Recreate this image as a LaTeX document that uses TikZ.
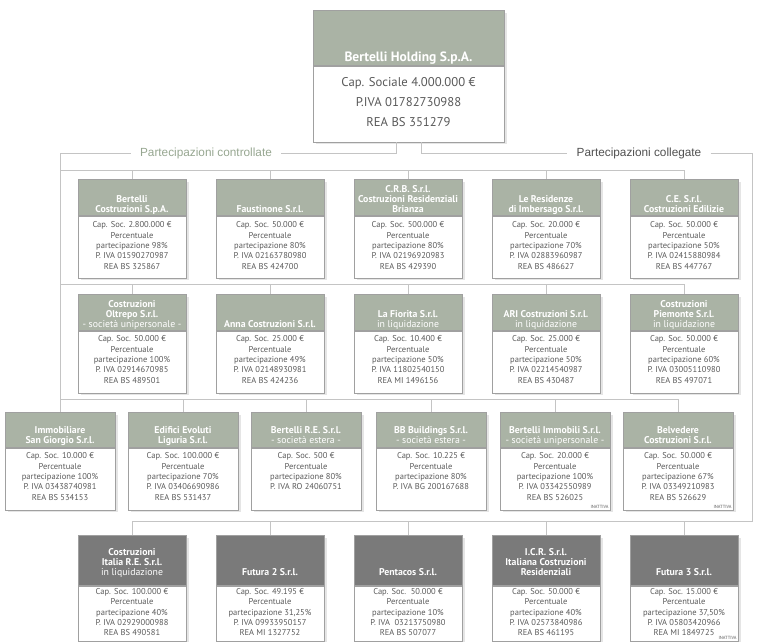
\documentclass[tikz,border=0pt]{standalone}
\usepackage{fontspec}
\setmainfont{PT Sans}
\newfontfamily\lblfont{Liberation Sans}
\usepackage{xcolor}
\usepackage{tikz}
\usetikzlibrary{positioning, shadows}

\definecolor{hdgreen}{RGB}{170,179,165}
\definecolor{hdgrey}{RGB}{122,122,122}
\definecolor{bxcol}{RGB}{160,160,160}
\definecolor{txcol}{RGB}{90,90,90}
\definecolor{lncol}{RGB}{196,196,196}
\definecolor{lbgreen}{RGB}{150,166,144}
\definecolor{lbgrey}{RGB}{80,80,80}

\tikzset{
  link/.style={draw=lncol, line width=0.8pt},
  hdr/.style n args={3}{fill=hdgreen, draw=bxcol, line width=0.5pt, text=white,
    font=\fontsize{9.8}{10}\selectfont\bfseries, inner sep=0pt, anchor=north,
    minimum width=#1pt,
    drop shadow={shadow xshift=2.5pt, shadow yshift=-2.5pt, fill=black!20},
    execute at begin node={\begin{minipage}[b][#2pt][b]{#1pt}\centering},
    execute at end node={\rule[-#3pt]{0pt}{#3pt}\end{minipage}}},
  bdy/.style n args={3}{fill=white, draw=bxcol, line width=0.5pt, text=txcol,
    font=\fontsize{8.5}{10.4}\selectfont, inner sep=0pt,
    minimum width=#1pt,
    drop shadow={shadow xshift=2.5pt, shadow yshift=-2.5pt, fill=black!20},
    execute at begin node={\begin{minipage}[t][#2pt][t]{#1pt}\centering\rule{0pt}{#3pt}},
    execute at end node={\end{minipage}}},
  lbl/.style={font=\lblfont\fontsize{11.8}{12}\selectfont, inner xsep=9pt, inner ysep=0pt},
  inatt/.style={anchor=south east, text=txcol, font=\fontsize{4.5}{5}\selectfont, inner sep=1.5pt}
}

\begin{document}
\begin{tikzpicture}[x=1pt, y=-1pt]
      \useasboundingbox (0,0) rectangle (760,641);

      % holding
      \node[hdr={191}{51}{4}, font=\fontsize{13.5}{15}\selectfont\bfseries] at (408.5,10) (H) {Bertelli Holding S.p.A.};
      \node[bdy={191}{76}{20.5}, font=\fontsize{12.7}{20}\selectfont, below=0pt of H] (Hi) {Cap. Sociale 4.000.000 €\\P.IVA 01782730988\\REA BS 351279};

      \node[lbl, text=lbgreen] at (206,153) (L1) {Partecipazioni controllate};
      \node[lbl, text=lbgrey] at (639,153) (L2) {Partecipazioni collegate};

      % row 1
      \node[hdr={108}{33}{3}] at (132,179) (A1) {Bertelli\\Costruzioni S.p.A.};
      \node[bdy={108}{62}{12}, below=0pt of A1] (A1i) {Cap. Soc. 2.800.000 €\\Percentuale\\partecipazione 98\%\\P. IVA 01590270987\\REA BS 325867};
      \node[hdr={108}{33}{3}] at (270,179) (A2) {Faustinone S.r.l.};
      \node[bdy={108}{62}{12}, below=0pt of A2] (A2i) {Cap. Soc. 50.000 €\\Percentuale\\partecipazione 80\%\\P. IVA 02163780980\\REA BS 424700};
      \node[hdr={108}{33}{3}] at (408,179) (A3) {C.R.B. S.r.l.\\Costruzioni Residenziali\\Brianza};
      \node[bdy={108}{62}{12}, below=0pt of A3] (A3i) {Cap. Soc. 500.000 €\\Percentuale\\partecipazione 80\%\\P. IVA 02196920983\\REA BS 429390};
      \node[hdr={108}{33}{3}] at (546,179) (A4) {Le Residenze\\di Imbersago S.r.l.};
      \node[bdy={108}{62}{12}, below=0pt of A4] (A4i) {Cap. Soc. 20.000 €\\Percentuale\\partecipazione 70\%\\P. IVA 02883960987\\REA BS 486627};
      \node[hdr={108}{33}{3}] at (684,179) (A5) {C.E. S.r.l.\\Costruzioni Edilizie};
      \node[bdy={108}{62}{12}, below=0pt of A5] (A5i) {Cap. Soc. 50.000 €\\Percentuale\\partecipazione 50\%\\P. IVA 02415880984\\REA BS 447767};

      % row 2
      \node[hdr={108}{33}{3}] at (132,294) (B1) {Costruzioni\\Oltrepo S.r.l.\\{\mdseries - società unipersonale -}};
      \node[bdy={108}{62}{11}, below=0pt of B1] (B1i) {Cap. Soc. 50.000 €\\Percentuale\\partecipazione 100\%\\P. IVA 02914670985\\REA BS 489501};
      \node[hdr={108}{33}{3}] at (270,294) (B2) {Anna Costruzioni S.r.l.};
      \node[bdy={108}{62}{11}, below=0pt of B2] (B2i) {Cap. Soc. 25.000 €\\Percentuale\\partecipazione 49\%\\P. IVA 02148930981\\REA BS 424236};
      \node[hdr={108}{33}{3}] at (408,294) (B3) {La Fiorita S.r.l.\\{\mdseries in liquidazione}};
      \node[bdy={108}{62}{11}, below=0pt of B3] (B3i) {Cap. Soc. 10.400 €\\Percentuale\\partecipazione 50\%\\P. IVA 11802540150\\REA MI 1496156};
      \node[hdr={108}{33}{3}] at (546,294) (B4) {ARI Costruzioni S.r.l.\\{\mdseries in liquidazione}};
      \node[bdy={108}{62}{11}, below=0pt of B4] (B4i) {Cap. Soc. 25.000 €\\Percentuale\\partecipazione 50\%\\P. IVA 02214540987\\REA BS 430487};
      \node[hdr={108}{33}{3}] at (684,294) (B5) {Costruzioni\\Piemonte S.r.l.\\{\mdseries in liquidazione}};
      \node[bdy={108}{62}{11}, below=0pt of B5] (B5i) {Cap. Soc. 50.000 €\\Percentuale\\partecipazione 60\%\\P. IVA 03005110980\\REA BS 497071};

      % row 3
      \node[hdr={110}{31}{4}] at (60,412) (C1) {Immobiliare\\San Giorgio S.r.l.};
      \node[bdy={110}{62}{11}, below=0pt of C1] (C1i) {Cap. Soc. 10.000 €\\Percentuale\\partecipazione 100\%\\P. IVA 03438740981\\REA BS 534153};
      \node[hdr={110}{31}{4}] at (183,412) (C2) {Edifici Evoluti\\Liguria S.r.l.};
      \node[bdy={110}{62}{11}, below=0pt of C2] (C2i) {Cap. Soc. 100.000 €\\Percentuale\\partecipazione 70\%\\P. IVA 03406690986\\REA BS 531437};
      \node[hdr={110}{31}{4}] at (306,412) (C3) {Bertelli R.E. S.r.l.\\{\mdseries - società estera -}};
      \node[bdy={110}{62}{11}, below=0pt of C3] (C3i) {Cap. Soc. 500 €\\Percentuale\\partecipazione 80\%\\P. IVA RO 24060751};
      \node[hdr={110}{31}{4}] at (431,412) (C4) {BB Buildings S.r.l.\\{\mdseries - società estera -}};
      \node[bdy={110}{62}{11}, below=0pt of C4] (C4i) {Cap. Soc. 10.225 €\\Percentuale\\partecipazione 80\%\\P. IVA BG 200167688};
      \node[hdr={110}{31}{4}] at (555,412) (C5) {Bertelli Immobili S.r.l.\\{\mdseries - società unipersonale -}};
      \node[bdy={110}{62}{11}, below=0pt of C5] (C5i) {Cap. Soc. 20.000 €\\Percentuale\\partecipazione 100\%\\P. IVA 03342550989\\REA BS 526025};
      \node[inatt] at (C5i.south east) (C5x) {INATTIVA};
      \node[hdr={110}{31}{4}] at (678,412) (C6) {Belvedere\\Costruzioni S.r.l.};
      \node[bdy={110}{62}{11}, below=0pt of C6] (C6i) {Cap. Soc. 50.000 €\\Percentuale\\partecipazione 67\%\\P. IVA 03349210983\\REA BS 526629};
      \node[inatt] at (C6i.south east) (C6x) {INATTIVA};

      % row 4
      \node[hdr={108}{40}{10}, fill=hdgrey] at (132,535) (D1) {Costruzioni\\Italia R.E. S.r.l.\\{\mdseries in liquidazione}};
      \node[bdy={108}{55}{8.5}, below=0pt of D1] (D1i) {Cap. Soc. 100.000 €\\Percentuale\\partecipazione 40\%\\P. IVA 02929000988\\REA BS 490581};
      \node[hdr={108}{40}{10}, fill=hdgrey] at (270,535) (D2) {Futura 2 S.r.l.};
      \node[bdy={108}{55}{8.5}, below=0pt of D2] (D2i) {Cap. Soc. 49.195 €\\Percentuale\\partecipazione 31,25\%\\P. IVA 09933950157\\REA MI 1327752};
      \node[hdr={108}{40}{10}, fill=hdgrey] at (408,535) (D3) {Pentacos S.r.l.};
      \node[bdy={108}{55}{8.5}, below=0pt of D3] (D3i) {Cap. Soc.\ \ 50.000 €\\Percentuale\\partecipazione 10\%\\P. IVA\ \ 03213750980\\REA BS 507077};
      \node[hdr={108}{40}{10}, fill=hdgrey] at (546,535) (D4) {I.C.R. S.r.l.\\Italiana Costruzioni\\Residenziali};
      \node[bdy={108}{55}{8.5}, below=0pt of D4] (D4i) {Cap. Soc. 50.000 €\\Percentuale\\partecipazione 40\%\\P. IVA 02573840986\\REA BS 461195};
      \node[hdr={108}{40}{10}, fill=hdgrey] at (684,535) (D5) {Futura 3 S.r.l.};
      \node[bdy={108}{55}{8.5}, below=0pt of D5] (D5i) {Cap. Soc. 15.000 €\\Percentuale\\partecipazione 37,50\%\\P. IVA 05803420966\\REA MI 1849725};
      \node[inatt] at (D5i.south east) (D5x) {INATTIVA};

      % connectors
      \coordinate (b1) at (60,170);
      \coordinate (b2) at (60,284);
      \coordinate (b3) at (60,399);
      \coordinate (b4) at (752,521);

      \draw[link] ([xshift=-12pt]Hi.south) |- (L1.east);
      \draw[link] (L1.west) -| (C1.north);
      \draw[link] ([xshift=13pt]Hi.south) |- (L2.west);
      \draw[link] (L2.east) -| (b4) -| (D1.north);

      \draw[link] (b1) -| (A5.north);
      \draw[link] (A1.north) -- (A1.north |- b1);
      \draw[link] (A2.north) -- (A2.north |- b1);
      \draw[link] (A3.north) -- (A3.north |- b1);
      \draw[link] (A4.north) -- (A4.north |- b1);

      \draw[link] (b2) -| (B5.north);
      \draw[link] (B1.north) -- (B1.north |- b2);
      \draw[link] (B2.north) -- (B2.north |- b2);
      \draw[link] (B3.north) -- (B3.north |- b2);
      \draw[link] (B4.north) -- (B4.north |- b2);

      \draw[link] (b3) -| (C6.north);
      \draw[link] (C2.north) -- (C2.north |- b3);
      \draw[link] (C3.north) -- (C3.north |- b3);
      \draw[link] (C4.north) -- (C4.north |- b3);
      \draw[link] (C5.north) -- (C5.north |- b3);

      \draw[link] (D2.north) -- (D2.north |- b4);
      \draw[link] (D3.north) -- (D3.north |- b4);
      \draw[link] (D4.north) -- (D4.north |- b4);
      \draw[link] (D5.north) -- (D5.north |- b4);
    \end{tikzpicture}
\end{document}
